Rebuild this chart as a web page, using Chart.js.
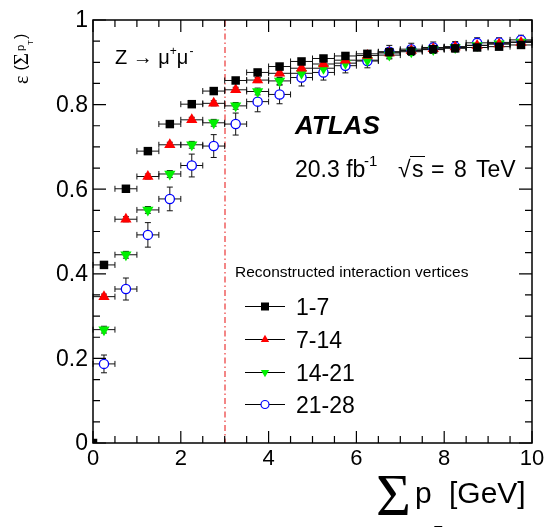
<!DOCTYPE html>
<html>
<head>
<meta charset="utf-8">
<script src="https://cdn.jsdelivr.net/npm/chart.js@4.4.1/dist/chart.umd.min.js"></script>
<style>
  html, body { margin: 0; padding: 0; background: #fff; }
  #wrap { width: 546px; height: 527px; }
</style>
</head>
<body>
<div id="wrap"><canvas id="eff" width="546" height="527"></canvas></div>
<script>
// ── Data ───────────────────────────────────────────────────
const binCenters   = [0.25, 0.75, 1.25, 1.75, 2.25, 2.75, 3.25, 3.75, 4.25, 4.75,
                      5.25, 5.75, 6.25, 6.75, 7.25, 7.75, 8.25, 8.75, 9.25, 9.75];
const binHalfWidth = 0.25;

const eff1to7   = [0.421, 0.601, 0.690, 0.754, 0.801, 0.832, 0.857, 0.876, 0.890, 0.902,
                   0.909, 0.915, 0.920, 0.924, 0.927, 0.931, 0.933, 0.935, 0.937, 0.941];
const err1to7   = [0.006, 0.006, 0.005, 0.005, 0.005, 0.005, 0.005, 0.005, 0.005, 0.005,
                   0.005, 0.005, 0.005, 0.005, 0.005, 0.005, 0.005, 0.006, 0.006, 0.006];
const eff7to14  = [0.346, 0.529, 0.630, 0.705, 0.764, 0.803, 0.835, 0.858, 0.874, 0.886,
                   0.896, 0.905, 0.916, 0.922, 0.928, 0.932, 0.936, 0.940, 0.943, 0.947];
const err7to14  = [0.006, 0.006, 0.006, 0.006, 0.006, 0.006, 0.006, 0.006, 0.006, 0.006,
                   0.006, 0.006, 0.006, 0.006, 0.007, 0.007, 0.007, 0.008, 0.008, 0.008];
const eff14to21 = [0.268, 0.445, 0.551, 0.636, 0.705, 0.757, 0.797, 0.831, 0.856, 0.874,
                   0.886, 0.898, 0.905, 0.917, 0.925, 0.930, 0.935, 0.940, 0.944, 0.948];
const err14to21 = [0.008, 0.008, 0.008, 0.008, 0.008, 0.008, 0.008, 0.008, 0.008, 0.008,
                   0.008, 0.008, 0.008, 0.009, 0.009, 0.009, 0.010, 0.010, 0.010, 0.010];
const eff21to28 = [0.187, 0.364, 0.492, 0.577, 0.656, 0.702, 0.754, 0.807, 0.824, 0.864,
                   0.876, 0.892, 0.903, 0.925, 0.931, 0.935, 0.937, 0.946, 0.947, 0.953];
const err21to28 = [0.021, 0.026, 0.029, 0.028, 0.027, 0.027, 0.026, 0.024, 0.022, 0.020,
                   0.018, 0.017, 0.016, 0.015, 0.014, 0.013, 0.012, 0.012, 0.011, 0.011];

// stray entry drawn at the origin in the original
const originPoint = { x: 0, y: 0 };

const xTickValues = [0, 2, 4, 6, 8, 10];
const xTickLabels = ['0', '2', '4', '6', '8', '10'];
const yTickValues = [0, 0.2, 0.4, 0.6, 0.8, 1];
const yTickLabels = ['0', '0.2', '0.4', '0.6', '0.8', '1'];
const cutValue    = 3;

const legendTitle  = 'Reconstructed interaction vertices';
const seriesLabels = ['1-7', '7-14', '14-21', '21-28'];

// ── Helpers ───────────────────────────────────────────────
const SANS  = '"Liberation Sans", Arial, Helvetica, sans-serif';
const SERIF = '"Liberation Serif", "Times New Roman", serif';

const toPoints = vals => binCenters.map((c, i) => ({ x: c, y: vals[i] }));

function marker(ctx, style, x, y, r) {
  ctx.beginPath();
  if (style === 'rect') {
    ctx.rect(x - r, y - r, 2 * r, 2 * r);
    ctx.fillStyle = '#000';
    ctx.fill();
  } else if (style === 'up' || style === 'down') {
    const s = style === 'up' ? 1 : -1;
    ctx.moveTo(x, y - s * r);
    ctx.lineTo(x + r * 0.866, y + s * r * 0.5);
    ctx.lineTo(x - r * 0.866, y + s * r * 0.5);
    ctx.closePath();
    ctx.fillStyle = style === 'up' ? '#ff0000' : '#00f000';
    ctx.fill();
  } else {
    ctx.arc(x, y, r, 0, Math.PI * 2);
    ctx.fillStyle = '#fff';
    ctx.fill();
    ctx.strokeStyle = '#0000ff';
    ctx.lineWidth = 1.2;
    ctx.stroke();
  }
}

const atlasDecor = {
  id: 'atlasDecor',
  beforeDatasetsDraw(chart) {
    const { ctx, scales: { x, y }, chartArea: a } = chart;
    ctx.save();

    // dash-dot line at the cut value
    const cx = Math.round(x.getPixelForValue(cutValue));
    ctx.strokeStyle = 'rgb(240,95,95)';
    ctx.lineWidth = 1.5;
    ctx.setLineDash([6, 3, 1.5, 3]);
    ctx.beginPath();
    ctx.moveTo(cx, a.top);
    ctx.lineTo(cx, a.bottom);
    ctx.stroke();
    ctx.setLineDash([]);

    // error bars (x: bin width, y: uncertainty), with end caps
    ctx.strokeStyle = '#111';
    ctx.lineWidth = 1;
    chart.data.datasets.forEach(ds => {
      if (!ds.errY) return;
      ds.data.forEach((p, i) => {
        const px = x.getPixelForValue(p.x), py = y.getPixelForValue(p.y);
        const x0 = x.getPixelForValue(p.x - binHalfWidth);
        const x1 = x.getPixelForValue(p.x + binHalfWidth);
        const y0 = y.getPixelForValue(p.y - ds.errY[i]);
        const y1 = y.getPixelForValue(p.y + ds.errY[i]);
        ctx.beginPath();
        ctx.moveTo(x0, py); ctx.lineTo(x1, py);
        ctx.moveTo(x0, py - 3); ctx.lineTo(x0, py + 3);
        ctx.moveTo(x1, py - 3); ctx.lineTo(x1, py + 3);
        ctx.moveTo(px, y0); ctx.lineTo(px, y1);
        ctx.moveTo(px - 3, y0); ctx.lineTo(px + 3, y0);
        ctx.moveTo(px - 3, y1); ctx.lineTo(px + 3, y1);
        ctx.stroke();
      });
    });
    ctx.restore();
  },

  afterDraw(chart) {
    const { ctx, scales: { x, y }, chartArea: a } = chart;
    ctx.save();

    // frame
    ctx.strokeStyle = '#000';
    ctx.lineWidth = 1.5;
    ctx.strokeRect(a.left, a.top, a.right - a.left, a.bottom - a.top);

    // inward ticks on all four sides
    ctx.lineWidth = 1.2;
    ctx.beginPath();
    for (let v = 0; v <= 10.001; v += 0.5) {
      const px = x.getPixelForValue(v);
      const len = xTickValues.some(t => Math.abs(t - v) < 1e-6) ? 12 : 7;
      ctx.moveTo(px, a.bottom); ctx.lineTo(px, a.bottom - len);
      ctx.moveTo(px, a.top);    ctx.lineTo(px, a.top + len);
    }
    for (let v = 0; v <= 1.0001; v += 0.05) {
      const py = y.getPixelForValue(v);
      const len = yTickValues.some(t => Math.abs(t - v) < 1e-6) ? 13 : 7;
      ctx.moveTo(a.left, py);  ctx.lineTo(a.left + len, py);
      ctx.moveTo(a.right, py); ctx.lineTo(a.right - len, py);
    }
    ctx.stroke();

    // tick labels
    ctx.fillStyle = '#000';
    ctx.font = `22px ${SANS}`;
    ctx.textAlign = 'center';
    ctx.textBaseline = 'top';
    xTickValues.forEach((v, i) => ctx.fillText(xTickLabels[i], x.getPixelForValue(v), a.bottom + 5));
    ctx.font = `23px ${SANS}`;
    ctx.textAlign = 'right';
    ctx.textBaseline = 'middle';
    yTickValues.forEach((v, i) => ctx.fillText(yTickLabels[i], a.left - 5, y.getPixelForValue(v) + 1));

    // x title: Σ p_T [GeV]
    ctx.textAlign = 'left';
    ctx.textBaseline = 'alphabetic';
    ctx.font = `60px ${SERIF}`;
    ctx.fillText('\u03A3', 376, 515);
    ctx.font = `30px ${SANS}`;
    ctx.fillText('p', 415, 503);
    ctx.font = `14px ${SANS}`;
    ctx.fillText('T', 434, 536);
    ctx.font = `30px ${SANS}`;
    ctx.fillText('[GeV]', 449, 503);

    // y title: ε (Σ p_T), rotated
    ctx.save();
    ctx.translate(28, 84);
    ctx.rotate(-Math.PI / 2);
    let tx = 0;
    ctx.font = `20px ${SERIF}`;
    ctx.fillText('\u03B5', tx, 0); tx += ctx.measureText('\u03B5').width + 5;
    ctx.font = `16px ${SANS}`;
    ctx.fillText('(', tx, -2); tx += ctx.measureText('(').width;
    ctx.font = `21px ${SERIF}`;
    ctx.fillText('\u03A3', tx, 0); tx += ctx.measureText('\u03A3').width + 2;
    ctx.font = `11px ${SANS}`;
    ctx.fillText('p', tx, -4); tx += ctx.measureText('p').width;
    ctx.font = `8px ${SANS}`;
    ctx.fillText('T', tx, 5); tx += ctx.measureText('T').width + 1;
    ctx.font = `16px ${SANS}`;
    ctx.fillText(')', tx, -2);
    ctx.restore();

    // Z → μ+μ-
    tx = 115;
    ctx.font = `20px ${SANS}`;
    ctx.fillText('Z \u2192 \u03BC', tx, 64);
    tx += ctx.measureText('Z \u2192 \u03BC').width;
    ctx.font = `12px ${SANS}`;
    ctx.fillText('+', tx, 55); tx += ctx.measureText('+').width;
    ctx.font = `20px ${SANS}`;
    ctx.fillText('\u03BC', tx, 64); tx += ctx.measureText('\u03BC').width;
    ctx.font = `12px ${SANS}`;
    ctx.fillText('-', tx + 1, 55);

    // ATLAS label
    ctx.font = `italic bold 26px ${SANS}`;
    ctx.fillText('ATLAS', 295, 134);

    // luminosity / energy (pieces placed with ROOT-like spacing)
    ctx.font = `23px ${SANS}`;
    ctx.fillText('20.3 fb', 295, 177);
    ctx.font = `15px ${SANS}`;
    ctx.fillText('-1', 364, 166);
    ctx.font = `23px ${SANS}`;
    ctx.fillText('\u221A', 398, 177);
    ctx.fillText('s', 412, 177);
    ctx.lineWidth = 1;
    ctx.beginPath();
    ctx.moveTo(410, 156.5); ctx.lineTo(425, 156.5);
    ctx.stroke();
    ctx.fillText('=', 431, 177);
    ctx.fillText('8', 454, 177);
    ctx.fillText('TeV', 476, 177);

    // legend
    ctx.font = `15.5px ${SANS}`;
    ctx.fillText(legendTitle, 235, 277);
    const styles = ['rect', 'up', 'down', 'circle'];
    const rows = [306, 339, 372, 404];
    const sizes = [4, 4.8, 4.8, 4];
    rows.forEach((ry, i) => {
      ctx.strokeStyle = '#000';
      ctx.lineWidth = 1;
      ctx.beginPath();
      ctx.moveTo(245, ry + 0.5); ctx.lineTo(285, ry + 0.5);
      ctx.stroke();
      marker(ctx, styles[i], 265, ry + 0.5, sizes[i]);
      ctx.fillStyle = '#000';
      ctx.font = `23px ${SANS}`;
      ctx.fillText(seriesLabels[i], 296, ry + 9);
    });

    ctx.restore();
  }
};

// ── Chart ─────────────────────────────────────────────────
new Chart(document.getElementById('eff').getContext('2d'), {
  type: 'scatter',
  data: {
    datasets: [
      { label: seriesLabels[0], data: toPoints(eff1to7), errY: err1to7,
        pointStyle: 'rect', pointRadius: 6, backgroundColor: '#000', borderColor: '#000', borderWidth: 0 },
      { label: seriesLabels[1], data: toPoints(eff7to14), errY: err7to14,
        pointStyle: 'triangle', pointRadius: 6.5, backgroundColor: '#ff0000', borderColor: '#ff0000', borderWidth: 0 },
      { label: seriesLabels[2], data: toPoints(eff14to21), errY: err14to21,
        pointStyle: 'triangle', rotation: 180, pointRadius: 6.5, backgroundColor: '#00f000', borderColor: '#00f000', borderWidth: 0 },
      { label: seriesLabels[3], data: toPoints(eff21to28), errY: err21to28,
        pointStyle: 'circle', pointRadius: 4.6, backgroundColor: '#fff', borderColor: '#0000ff', borderWidth: 1.3 },
      { label: 'origin', data: [originPoint],
        pointStyle: 'rect', pointRadius: 6, backgroundColor: '#000', borderColor: '#000', borderWidth: 0 },
    ],
  },
  options: {
    responsive: false,
    animation: false,
    devicePixelRatio: 1,
    layout: { padding: { left: 93, right: 14, top: 20, bottom: 84 } },
    plugins: {
      legend: { display: false },
      tooltip: { enabled: false },
    },
    scales: {
      x: { type: 'linear', min: 0, max: 10, display: false },
      y: { type: 'linear', min: 0, max: 1, display: false },
    },
  },
  plugins: [atlasDecor],
});
</script>
</body>
</html>
